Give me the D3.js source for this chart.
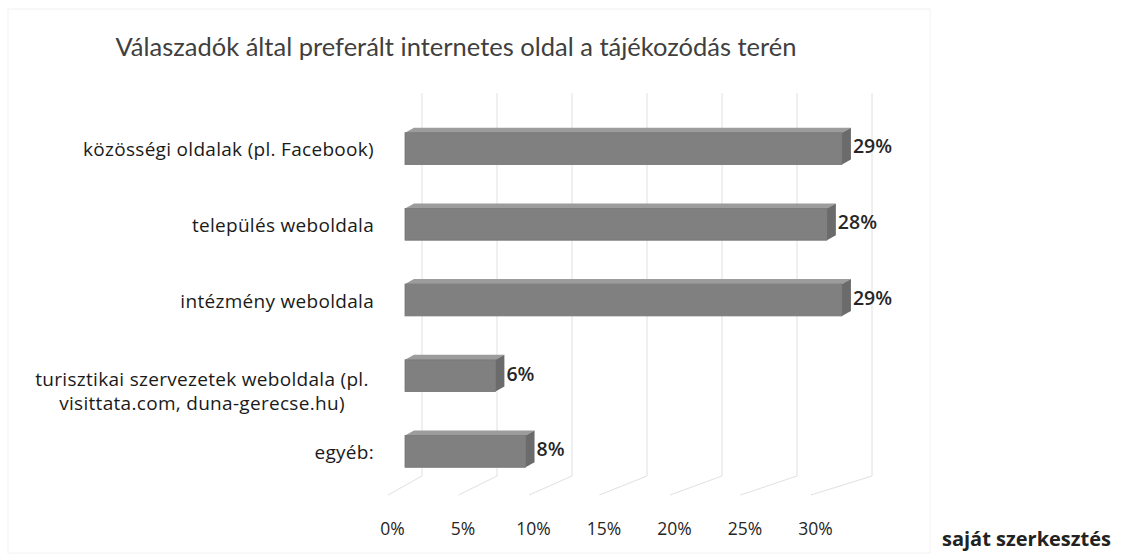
<!DOCTYPE html>
<html>
<head>
<meta charset="utf-8">
<script src="https://cdn.jsdelivr.net/npm/d3@7"></script>
<style>
  body { margin: 0; background: #fff; }
</style>
</head>
<body>
<div id="chart"></div>
<script>
const categories = [
  "közösségi oldalak (pl. Facebook)",
  "település weboldala",
  "intézmény weboldala",
  "turisztikai szervezetek weboldala (pl.|visittata.com, duna-gerecse.hu)",
  "egyéb:"
];
const values = [0.29, 0.28, 0.29, 0.06, 0.08];
const ticks = [0, 0.05, 0.10, 0.15, 0.20, 0.25, 0.30];
const title = "Válaszadók által preferált internetes oldal a tájékozódás terén";
const source = "saját szerkesztés";

const width = 1126;
const height = 560;

const svg = d3.select("#chart")
  .append("svg")
  .attr("width", width)
  .attr("height", height)
  .style("font-family", "'Open Sans', sans-serif");

// three planes of the 3D box: label/front floor edge, bars, back wall
const xFloor = d3.scaleLinear().domain([0, 0.30]).range([392, 815]);
const xBar = d3.scaleLinear().domain([0, 0.30]).range([405, 857]);
const xBack = d3.scaleLinear().domain([0, 0.30]).range([422, 872]);

const y = d3.scaleBand()
  .domain(d3.range(categories.length))
  .range([110, 490])
  .paddingInner(0.58)
  .paddingOuter(0.3);

const depth = { dx: 9, dy: -5 };
const barH = y.bandwidth();

// faint chart frame
svg.append("rect")
  .attr("x", 8).attr("y", 9)
  .attr("width", 922).attr("height", 544)
  .attr("fill", "none")
  .attr("stroke", "#f2f2f2");

// title
svg.append("text")
  .attr("x", 456).attr("y", 56)
  .attr("text-anchor", "middle")
  .style("font-family", "Lato, sans-serif")
  .attr("font-size", 25.5)
  .attr("fill", "#404040")
  .text(title);

// gridlines on back wall + floor diagonals
const grid = svg.append("g")
  .attr("stroke", "#e0e0e0")
  .attr("stroke-width", 1);

grid.selectAll("line.v")
  .data(ticks)
  .join("line")
  .attr("class", "v")
  .attr("x1", d => xBack(d)).attr("x2", d => xBack(d))
  .attr("y1", 93).attr("y2", 476);

grid.selectAll("line.d")
  .data(ticks)
  .join("line")
  .attr("class", "d")
  .attr("x1", d => xBack(d)).attr("y1", 476)
  .attr("x2", d => xFloor(d) - 4).attr("y2", 495);

// bars (front, top, side faces)
const bars = svg.append("g")
  .selectAll("g")
  .data(values)
  .join("g");

bars.append("path")
  .attr("fill", "#9c9c9c")
  .attr("d", (d, i) => {
    const x0 = xBar(0), x1 = xBar(d), t = y(i);
    return `M${x0},${t} L${x0 + depth.dx},${t + depth.dy} L${x1 + depth.dx},${t + depth.dy} L${x1},${t} Z`;
  });

bars.append("path")
  .attr("fill", "#6b6b6b")
  .attr("d", (d, i) => {
    const x1 = xBar(d), t = y(i);
    return `M${x1},${t} L${x1 + depth.dx},${t + depth.dy} L${x1 + depth.dx},${t + depth.dy + barH} L${x1},${t + barH} Z`;
  });

bars.append("rect")
  .attr("x", xBar(0))
  .attr("y", (d, i) => y(i))
  .attr("width", d => xBar(d) - xBar(0))
  .attr("height", barH)
  .attr("fill", "#808080")
  .attr("stroke", "#747474")
  .attr("stroke-width", 0.8);

// value labels
bars.append("text")
  .attr("x", d => xBar(d) + depth.dx + 2)
  .attr("y", (d, i) => y(i) + barH / 2 - 2)
  .attr("dy", "0.35em")
  .attr("font-size", 19.5)
  .attr("font-weight", 600)
  .attr("fill", "#262626")
  .text(d => d3.format(".0%")(d));

// category labels
const labels = svg.append("g")
  .selectAll("text")
  .data(categories)
  .join("text")
  .attr("font-size", 19)
  .attr("letter-spacing", 0.3)
  .attr("fill", "#1a1a1a")
  .attr("text-anchor", (d) => d.includes("|") ? "middle" : "end")
  .attr("x", d => d.includes("|") ? 202 : 374)
  .attr("y", (d, i) => y(i) + barH / 2 + (d.includes("|") ? 4 : 1));

labels.each(function(d) {
  const parts = d.split("|");
  const t = d3.select(this);
  parts.forEach((p, k) => {
    t.append("tspan")
      .attr("x", t.attr("x"))
      .attr("dy", k === 0 ? "0.35em" : "1.25em")
      .text(p);
  });
});

// x axis labels
svg.append("g")
  .attr("transform", "translate(0,520)")
  .call(d3.axisBottom(xFloor).tickValues(ticks).tickFormat(d3.format(".0%")).tickSize(0))
  .call(g => g.select(".domain").remove())
  .call(g => g.selectAll("text")
    .style("font-family", "'Open Sans', sans-serif")
    .attr("font-size", 17.5)
    .attr("fill", "#262626"));

// source note
svg.append("text")
  .attr("x", 1111).attr("y", 546)
  .attr("text-anchor", "end")
  .attr("font-size", 20)
  .attr("font-weight", 700)
  .attr("fill", "#222")
  .text(source);
</script>
</body>
</html>
